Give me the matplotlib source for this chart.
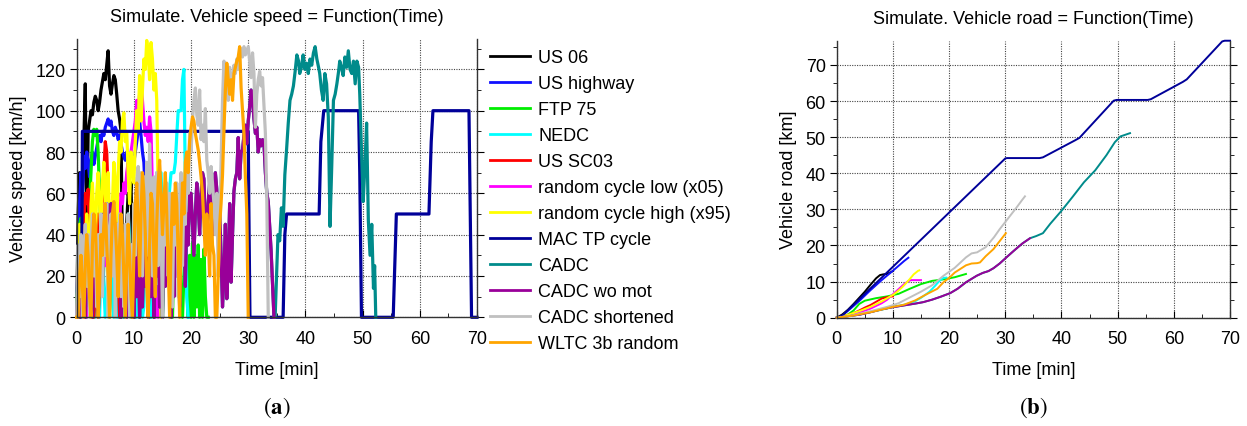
import numpy as np
import matplotlib
matplotlib.use("Agg")
import matplotlib.pyplot as plt
from matplotlib.ticker import MultipleLocator

plt.rcParams['font.family'] = ['Liberation Sans', 'DejaVu Sans']
plt.rcParams['mathtext.fontset'] = 'stix'

#=================== speed traces [km/h], sampled every 0.25 min ===================
dt = 0.25

us06_v = [0, 50, 70, 45, 60, 85, 113, 40, 90, 95, 100, 98, 104, 107, 105, 100,
          104, 110, 114, 118, 115, 122, 129, 112, 108, 113, 117, 115, 108, 100, 96, 90,
          30, 0, 20, 45, 60, 55, 65, 30, 0]

us_hwy_v = [0, 30, 55, 70, 60, 78, 72, 80, 75, 68, 76, 80, 74, 78, 82, 86, 88, 85, 90, 88,
            92, 94, 96, 93, 95, 90, 88, 92, 90, 86, 88, 84, 80, 78, 76, 80, 78, 74, 76, 72,
            75, 80, 85, 90, 95, 88, 80, 75, 60, 40, 20, 0]

ftp75_v = [0, 25, 45, 48, 30, 40, 35, 20,
           30, 55, 70, 85, 91, 88, 91, 80,
           60, 40, 20, 35, 45, 30, 15, 0,
           20, 35, 40, 25, 45, 30, 10, 0,
           15, 30, 20, 35, 25, 10, 0, 20,
           35, 40, 30, 15, 0, 25, 45, 35,
           40, 50, 30, 10, 0, 20, 40, 45,
           30, 50, 40, 20, 0, 30, 45, 35,
           40, 25, 10, 0, 30, 40, 20, 35,
           25, 10, 0, 20, 35, 15, 0, 30,
           0, 36, 0, 30, 5, 35, 0, 28,
           0, 33, 10, 0, 0]

# 4 x ECE urban part, then the extra-urban part
nedc_v = [0, 15, 0, 0, 30, 32, 15, 0, 5, 35, 50, 35, 20,
          0, 15, 0, 0, 30, 32, 15, 0, 5, 35, 50, 35, 20,
          0, 15, 0, 0, 30, 32, 15, 0, 5, 35, 50, 35, 20,
          0, 15, 0, 0, 30, 32, 15, 0, 5, 35, 50, 35, 20,
          0, 10, 35, 55, 70, 70, 70, 70, 50, 50, 50, 50, 50, 62, 70, 70,
          70, 75, 88, 100, 100, 100, 115, 120, 65, 10, 0]

us_sc03_v = [0, 0, 20, 35, 25, 45, 60, 55, 62, 40, 30, 0, 0, 15, 35, 50, 45, 30, 55, 70,
             85, 80, 60, 45, 30, 50, 62, 55, 40, 20, 0, 0, 25, 40, 30, 15, 35, 20, 10, 0, 0]

rand_low_v = [0, 10, 25, 15, 30, 40, 20, 0,
              15, 35, 45, 30, 50, 35, 15, 0,
              20, 45, 55, 40, 25, 50, 60, 45,
              30, 55, 60, 50, 35, 20, 45, 60,
              55, 65, 60, 70, 75, 68, 80, 85,
              90, 95, 105, 100, 108, 113, 105, 95,
              88, 92, 85, 97, 90, 60, 10, 0,
              15, 0, 10, 0, 0]

rand_high_v = [0, 20, 45, 30, 10, 0, 25, 50,
               40, 20, 55, 65, 50, 35, 60, 70,
               55, 40, 65, 75, 60, 45, 70, 50,
               30, 55, 75, 65, 40, 70, 85, 80,
               95, 99, 85, 90, 70, 55, 80, 75,
               65, 85, 100, 90, 117, 95, 110, 125,
               120, 134, 128, 115, 133, 125, 110, 118,
               105, 60, 20, 0]

cadc_wo_mot_v = [0, 15, 0, 25, 5, 30, 0, 20,
                 35, 5, 25, 0, 30, 10, 35, 0,
                 20, 45, 15, 50, 30, 55, 25, 45,
                 55, 30, 50, 20, 45, 10, 35, 0,
                 25, 5, 30, 0, 20, 35, 5, 25,
                 0, 30, 10, 40, 0, 25, 5, 35,
                 15, 40, 0, 30, 10, 35, 0, 40,
                 20, 45, 5, 35, 0, 40, 15, 45,
                 25, 50, 0, 40, 10, 45, 20, 55,
                 5, 45, 30, 55, 15, 50, 35, 60,
                 60, 45, 30, 50, 65, 55, 40, 60,
                 70, 67, 45, 37, 55, 65, 50, 40,
                 60, 70, 62, 45, 53, 30, 5, 20,
                 45, 9, 25, 55, 17, 40, 61, 67,
                 70, 87, 67, 80, 81, 88, 93, 84,
                 95, 102, 110, 105, 96, 89, 92, 80,
                 86, 83, 86, 84, 70, 60, 56, 44,
                 32, 16, 0]

# motorway part of the CADC (after the rural part)
cadc_mot_t = [34.7, 35.0, 35.2, 35.5, 35.8, 36.1, 36.4, 36.7, 37.0, 37.3,
              37.6, 37.9, 38.2, 38.5, 38.8, 39.0, 39.3, 39.6, 39.9, 40.2,
              40.5, 40.8, 41.1, 41.4, 41.7, 42.0, 42.3, 42.5, 42.8, 43.1,
              43.4, 43.7, 44.0, 44.3, 44.6, 44.9, 45.2, 45.5, 45.8, 46.0,
              46.3, 46.6, 46.9, 47.2, 47.5, 47.8, 48.1, 48.4, 48.7, 49.0,
              49.3, 49.5, 49.8, 50.1, 50.4, 50.7, 51.0, 51.3, 51.6, 51.9,
              52.1, 52.3]
cadc_mot_v = [0, 24, 40, 37, 53, 44, 69, 81, 94, 105,
              108, 112, 119, 127, 124, 118, 121, 127, 120, 123,
              118, 125, 122, 128, 131, 125, 121, 118, 110, 105,
              118, 113, 97, 44, 73, 105, 108, 113, 119, 124,
              121, 117, 126, 121, 129, 120, 118, 124, 113, 124,
              121, 108, 81, 56, 73, 94, 47, 30, 45, 14,
              25, 0]

cadc_short_v = [0, 35, 10, 40, 0, 30, 45, 15,
                40, 0, 35, 50, 20, 45, 5, 40,
                25, 50, 10, 45, 30, 55, 0, 40,
                50, 20, 55, 0, 45, 30, 50, 10,
                40, 5, 45, 25, 50, 0, 35, 20,
                55, 30, 65, 73, 40, 70, 20, 68,
                45, 75, 30, 84, 55, 20, 68, 40,
                70, 25, 62, 45, 0, 58, 35, 65,
                20, 60, 45, 5, 55, 35, 65, 10,
                50, 70, 25, 60, 45, 75, 60, 89,
                80, 95, 105, 111, 98, 93, 110, 86,
                93, 85, 101, 76, 70, 60, 73, 65,
                55, 40, 60, 20, 45, 75, 105, 124,
                112, 118, 105, 121, 110, 115, 122, 118,
                125, 120, 128, 130, 126, 131, 127, 129,
                131, 124, 116, 128, 118, 92, 108, 115,
                119, 112, 116, 102, 89, 56, 0]

wltc_v = [0, 0, 20, 30, 15, 0, 25, 40,
          30, 10, 0, 35, 50, 45, 25, 0,
          15, 40, 30, 45, 55, 35, 20, 0,
          30, 50, 56, 45, 30, 10, 35, 50,
          40, 20, 0, 25, 45, 30, 10, 0,
          30, 55, 65, 45, 20, 50, 70, 60,
          40, 15, 0, 35, 60, 55, 30, 10,
          45, 65, 76, 60, 40, 55, 70, 50,
          25, 0, 35, 60, 45, 65, 55, 30,
          0, 40, 65, 50, 75, 80, 70, 85,
          92, 97, 95, 89, 85, 81, 75, 68,
          60, 45, 30, 50, 40, 20, 55, 35,
          30, 0, 0, 20, 45, 55, 69, 90,
          110, 123, 115, 108, 115, 105, 118, 121,
          124, 126, 131, 111, 100, 89, 68, 50,
          0]

# MAC TP cycle is a piecewise constant profile
mac_t = [0, 0.85, 1.0, 30.0, 30.1, 30.3, 36.1, 36.4, 36.7, 42.4, 42.7, 43.2,
         49.3, 49.5, 49.8, 55.35, 55.9, 61.6, 62.0, 62.3, 68.6, 69.05, 70.0]
mac_v = [0, 0, 90, 90, 55, 0, 0, 40, 50, 50, 85, 100,
         100, 70, 0, 0, 50, 50, 85, 100, 100, 0, 0]

#=================== covered distance [km] ===================
us06_dt = [0, 1, 2, 3, 4, 5, 6, 7, 7.7, 8.3, 8.9, 9.5, 10]
us06_d = [0, 0.9, 2.2, 3.8, 5.5, 7.2, 9.1, 10.9, 11.8, 12.0, 12.1, 12.5, 12.9]
us_hwy_dt = [0, 0.5, 1, 2, 4, 6, 8, 10, 12, 12.75]
us_hwy_d = [0, 0.15, 0.6, 1.9, 4.6, 7.6, 10.4, 13.0, 15.7, 16.6]
ftp75_dt = [0, 1, 2, 3, 4, 5, 7, 9, 11, 13, 15, 17, 19, 21, 23]
ftp75_d = [0, 0.3, 0.9, 2.0, 3.8, 4.7, 5.4, 5.9, 6.6, 8.0, 9.3, 10.2, 10.6, 11.2, 12.1]
nedc_dt = [0, 2, 4, 6, 8, 10, 12, 13, 14, 15, 16, 16.5, 17, 17.5, 18, 18.5, 19, 19.5]
nedc_d = [0, 0.4, 1.0, 1.6, 2.2, 3.0, 3.6, 4.0, 4.6, 5.5, 6.6, 7.2, 8.0, 8.8, 9.7, 10.5, 11.0, 11.1]
us_sc03_dt = [0, 1, 2, 3, 4, 5, 6, 7, 8, 9, 10]
us_sc03_d = [0, 0.3, 0.8, 1.3, 2.0, 2.8, 3.5, 4.4, 5.3, 5.7, 5.9]
rand_low_dt = [0, 2, 4, 6, 8, 9, 10, 11, 12, 12.6, 13.2, 15]
rand_low_d = [0, 0.5, 1.4, 2.5, 4.0, 5.0, 6.5, 7.9, 9.3, 10.0, 10.4, 10.4]
rand_high_dt = [0, 2, 4, 6, 8, 9, 10, 10.7, 11.5, 12.2, 13, 13.7, 14.5, 14.7]
rand_high_d = [0, 0.8, 1.8, 3.0, 4.5, 5.4, 6.3, 7.1, 8.2, 9.3, 10.7, 12.0, 13.0, 13.1]
mac_dt = [0, 1, 30, 30.3, 36.1, 36.7, 42.4, 43.2, 49.3, 49.8, 55.35, 55.9, 61.6, 62.3, 68.6, 69.05, 70]
mac_d = [0, 0.6, 44.1, 44.2, 44.2, 44.4, 49.1, 49.8, 60.1, 60.3, 60.3, 60.5, 65.3, 66.0, 76.5, 76.7, 76.7]
cadc_wo_mot_dt = [0, 2, 4, 6, 8, 10, 12, 14, 15.4, 17, 18.5, 20.2, 21.5, 23, 24.9, 26, 27, 27.9,
                  29, 30.2, 31.5, 33, 34.4]
cadc_wo_mot_d = [0, 0.4, 0.8, 1.5, 2.3, 2.9, 3.4, 3.9, 4.3, 5.0, 5.8, 6.8, 8.0, 9.8, 11.6, 12.4, 12.9, 13.7,
                 15.0, 16.7, 18.5, 20.5, 22.0]
cadc_mot_dt = [35.5, 36.7, 38, 40, 42, 44, 46, 48, 49.5, 50.5, 52.2]
cadc_mot_d = [22.6, 23.4, 26.0, 29.6, 33.5, 37.5, 40.8, 45.0, 48.6, 50.2, 51.1]
cadc_short_dt = [0, 3, 6, 9, 11, 13, 15, 17, 19, 21, 23, 24, 25, 25.5, 26.5, 28, 29, 30.2, 31, 32, 33, 33.5]
cadc_short_d = [0, 0.7, 1.8, 3.0, 4.0, 5.6, 7.2, 9.0, 11.6, 13.8, 16.7, 17.8, 18.1, 18.6, 19.5, 22.3,
                24.5, 26.9, 28.5, 30.5, 32.6, 33.6]
wltc_dt = [0, 3, 6, 9, 10, 12, 14, 16, 17.9, 19, 20, 21, 22.3, 23, 24, 25, 25.5, 26.5, 27.9, 29, 30.1]
wltc_d = [0, 0.6, 1.5, 2.6, 3.0, 3.6, 4.8, 6.5, 8.0, 9.8, 11.0, 12.5, 13.8, 14.5, 15.0, 15.1, 15.3, 17.0,
          19.0, 21.2, 23.4]

#=================== Pre-process ===================
def grid_t(v):
    return np.arange(len(v)) * dt

# full CADC = rural/urban part followed by the motorway part
cadc_t = list(grid_t(cadc_wo_mot_v)) + cadc_mot_t
cadc_v = cadc_wo_mot_v + cadc_mot_v
cadc_dt = cadc_wo_mot_dt + cadc_mot_dt
cadc_d = cadc_wo_mot_d + cadc_mot_d

cycles = [
    # label, colour, speed t, speed v, road t, road d
    ("US 06", "#000000", grid_t(us06_v), us06_v, us06_dt, us06_d),
    ("US highway", "#1010ff", grid_t(us_hwy_v), us_hwy_v, us_hwy_dt, us_hwy_d),
    ("FTP 75", "#00ee00", grid_t(ftp75_v), ftp75_v, ftp75_dt, ftp75_d),
    ("NEDC", "#00ffff", grid_t(nedc_v), nedc_v, nedc_dt, nedc_d),
    ("US SC03", "#ff0000", grid_t(us_sc03_v), us_sc03_v, us_sc03_dt, us_sc03_d),
    ("random cycle low (x05)", "#ff00ff", grid_t(rand_low_v), rand_low_v, rand_low_dt, rand_low_d),
    ("random cycle high (x95)", "#ffff00", grid_t(rand_high_v), rand_high_v, rand_high_dt, rand_high_d),
    ("MAC TP cycle", "#000099", mac_t, mac_v, mac_dt, mac_d),
    ("CADC", "#008b8b", cadc_t, cadc_v, cadc_dt, cadc_d),
    ("CADC wo mot", "#990099", grid_t(cadc_wo_mot_v), cadc_wo_mot_v, cadc_wo_mot_dt, cadc_wo_mot_d),
    ("CADC shortened", "#c0c0c0", grid_t(cadc_short_v), cadc_short_v, cadc_short_dt, cadc_short_d),
    ("WLTC 3b random", "#ffa500", grid_t(wltc_v), wltc_v, wltc_dt, wltc_d),
]

#=================== Plot ===================
fs = 13
fig = plt.figure(figsize=(12.47, 4.27), dpi=100)
ax1 = fig.add_axes([0.0615, 0.2546, 0.3210, 0.6517])
ax2 = fig.add_axes([0.6710, 0.2537, 0.3154, 0.6486])

for lab, col, st, sv, rt, rd in cycles:
    ax1.plot(st, sv, color=col, linewidth=2.3, label=lab, clip_on=False)
    ax2.plot(rt, rd, color=col, linewidth=1.4, clip_on=False)

def style_axes(ax, ymax, ymajor, yminor):
    ax.set_xlim(0, 70)
    ax.set_ylim(0, ymax)
    ax.xaxis.set_major_locator(MultipleLocator(10))
    ax.xaxis.set_minor_locator(MultipleLocator(5))
    ax.yaxis.set_major_locator(MultipleLocator(ymajor))
    ax.yaxis.set_minor_locator(MultipleLocator(yminor))
    ax.spines['top'].set_visible(False)
    for s in ['left', 'bottom', 'right']:
        ax.spines[s].set_linewidth(1.0)
        ax.spines[s].set_color('#333333')
    ax.grid(True, which='major', linestyle=(0, (1, 1.2)), color='#444444', linewidth=0.8)
    ax.set_axisbelow(True)
    ax.tick_params(axis='y', which='both', direction='out', right=True, labelsize=fs, pad=3)
    ax.tick_params(axis='x', which='both', direction='in', labelsize=fs, pad=9)
    ax.tick_params(which='major', length=5)
    ax.tick_params(which='minor', length=3)
    ax.set_xlabel('Time [min]', fontsize=fs, labelpad=10)

style_axes(ax1, 134.7, 20, 10)
style_axes(ax2, 76.7, 10, 5)

ax1.set_ylabel('Vehicle speed [km/h]', fontsize=fs, labelpad=6)
ax2.set_ylabel('Vehicle road [km]', fontsize=fs, labelpad=6)
ax1.set_title('Simulate. Vehicle speed = Function(Time)', fontsize=fs, pad=13)
ax2.set_title('Simulate. Vehicle road = Function(Time)', fontsize=fs, pad=13)

leg = ax1.legend(loc='upper left', bbox_to_anchor=(1.015, 0.99), frameon=False, fontsize=fs,
                 handlelength=2.2, handletextpad=0.45, labelspacing=0.5, borderaxespad=0)
for h in leg.get_lines():
    h.set_linewidth(2.0)

fig.text(0.2222, 0.03, r'$(\mathbf{a})$', fontsize=16.5, ha='center')
fig.text(0.8287, 0.03, r'$(\mathbf{b})$', fontsize=16.5, ha='center')

plt.savefig('out.png', dpi=100)
plt.close()
